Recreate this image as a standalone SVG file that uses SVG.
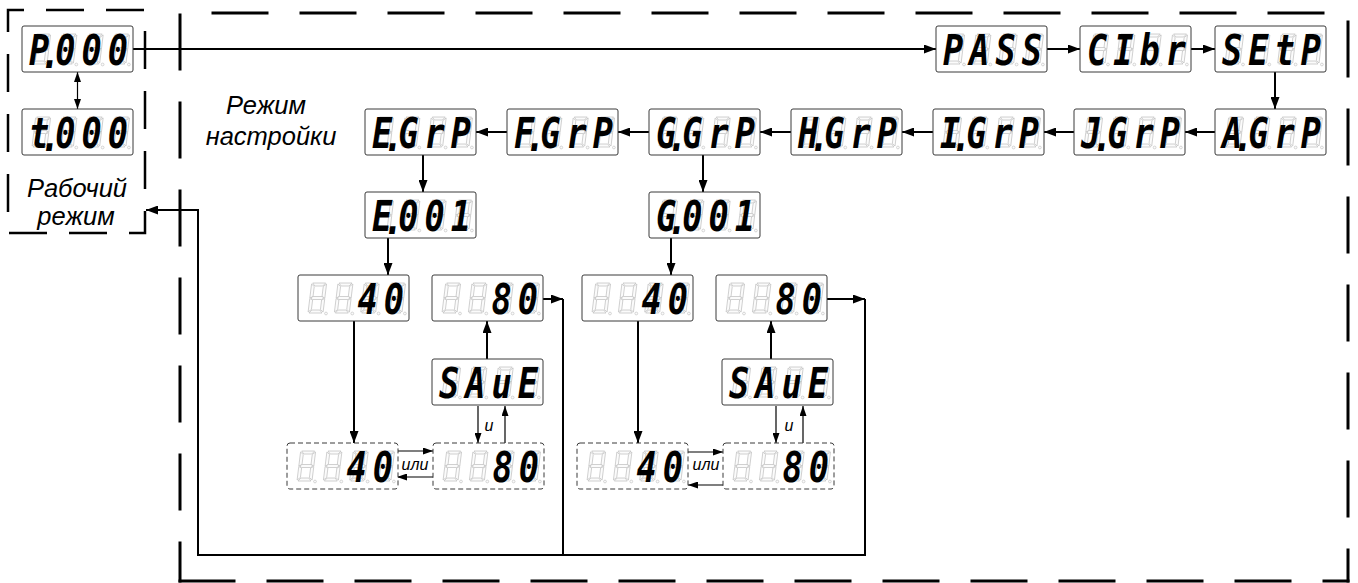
<svg xmlns="http://www.w3.org/2000/svg" xmlns:xlink="http://www.w3.org/1999/xlink" width="1358" height="583" viewBox="0 0 1358 583">
  <style>
    .frame{fill:#fff;stroke:#3a3a3a;stroke-width:1}
    .dframe{fill:#fff;stroke:#3a3a3a;stroke-width:1;stroke-dasharray:5 3}
    .seg polygon{fill:#fbfbfb;stroke:#bdbdbd;stroke-width:0.7}
    .seg circle{fill:#fbfbfb;stroke:#bdbdbd;stroke-width:0.6}
    .lit{font-family:"DejaVu Sans Mono","Liberation Mono",monospace;font-weight:bold;font-style:oblique;font-size:42px;fill:#000;text-anchor:middle}
    .lbl{font-family:"Liberation Sans",Arial,sans-serif;font-style:italic;font-size:25.5px;fill:#000;text-anchor:middle}
    .sm{font-size:16px}
    .wire{fill:none;stroke:#000;stroke-width:2}
    .thin{fill:none;stroke:#000;stroke-width:1.2}
    .bound{fill:none;stroke:#000;stroke-width:3;stroke-linecap:square;stroke-dasharray:54 34}
    .bound2{fill:none;stroke:#000;stroke-width:2.5;stroke-dasharray:38 22}
  </style>
  <defs>
    <marker id="ah" viewBox="0 0 12 9" refX="12" refY="4.5" markerWidth="12" markerHeight="9" markerUnits="userSpaceOnUse" orient="auto">
      <path d="M0,0 L12,4.5 L0,9 Z" fill="#000"/>
    </marker>
    <marker id="ahs" viewBox="0 0 10 7" refX="10" refY="3.5" markerWidth="10" markerHeight="7" markerUnits="userSpaceOnUse" orient="auto-start-reverse">
      <path d="M0,0 L10,3.5 L0,7 Z" fill="#000"/>
    </marker>
    <!-- one unlit seven-segment cell, 15x30, slanted -->
    <g id="cell" class="seg">
      <g transform="translate(0,30) skewX(-7) translate(0,-30)">
        <polygon points="1,0 14,0 11.5,3 3.5,3"/>
        <polygon points="0,1 3,3.5 3,13.5 0,15"/>
        <polygon points="15,1 15,15 12,13.5 12,3.5"/>
        <polygon points="1,15 3,13.5 12,13.5 14,15 12,16.5 3,16.5"/>
        <polygon points="0,15.5 3,17 3,26.5 0,29"/>
        <polygon points="15,15.5 15,29 12,26.5 12,17"/>
        <polygon points="1,30 3.5,27 11.5,27 14,30"/>
      </g>
      <circle cx="18" cy="30.5" r="1.4"/>
    </g>
    <!-- four-digit indicator background -->
    <g id="ghost4">
      <use xlink:href="#cell" href="#cell" x="10" y="8"/>
      <use xlink:href="#cell" href="#cell" x="36.3" y="8"/>
      <use xlink:href="#cell" href="#cell" x="62.6" y="8"/>
      <use xlink:href="#cell" href="#cell" x="88.9" y="8"/>
    </g>
  </defs>

  <rect width="1358" height="583" fill="#fff"/>

  <!-- mode boundaries -->
  <g id="boundaries">
    <path class="bound2" d="M8,10 H145 V233 H8 Z" stroke-dashoffset="22"/>
    <path class="bound" d="M180,13 V581" stroke-dashoffset="86"/>
    <path class="bound" d="M180,581 H1348" stroke-dashoffset="0"/>
    <path class="bound" d="M1348,581 V13" stroke-dashoffset="23"/>
    <path class="bound" d="M1348,13 H180" stroke-dashoffset="63"/>
  </g>

  <!-- connectors -->
  <g id="connectors">
    <path class="wire" d="M133,49 H936" marker-end="url(#ah)"/>
    <path class="wire" d="M1047,49 H1080" marker-end="url(#ah)"/>
    <path class="wire" d="M1191,49 H1215" marker-end="url(#ah)"/>
    <path class="wire" d="M1275,72 V109" marker-end="url(#ah)"/>
    <path class="wire" d="M1215,132 H1185" marker-end="url(#ah)"/>
    <path class="wire" d="M1074,132 H1044" marker-end="url(#ah)"/>
    <path class="wire" d="M933,132 H902" marker-end="url(#ah)"/>
    <path class="wire" d="M791,132 H760" marker-end="url(#ah)"/>
    <path class="wire" d="M649,132 H618" marker-end="url(#ah)"/>
    <path class="wire" d="M507,132 H476" marker-end="url(#ah)"/>
    <path class="wire" d="M423,155 V192" marker-end="url(#ah)"/>
    <path class="wire" d="M703,155 V192" marker-end="url(#ah)"/>
    <path class="wire" d="M388,238 V275" marker-end="url(#ah)"/>
    <path class="wire" d="M671,238 V275" marker-end="url(#ah)"/>
    <path class="wire" d="M354,321 V443" marker-end="url(#ah)"/>
    <path class="wire" d="M638,321 V443" marker-end="url(#ah)"/>
    <path class="wire" d="M487,359 V321" marker-end="url(#ah)"/>
    <path class="wire" d="M771,359 V321" marker-end="url(#ah)"/>
    <path class="wire" d="M543,299 H563" marker-end="url(#ah)"/>
    <path class="wire" d="M827,299 H865" marker-end="url(#ah)"/>
    <path class="wire" d="M563,299 V555"/>
    <path class="wire" d="M865,299 V555 H198 V210 H146" marker-end="url(#ah)"/>
    <path class="thin" d="M77.5,72 V109" marker-start="url(#ahs)" marker-end="url(#ahs)"/>
    <path class="thin" d="M397,451 H433" marker-end="url(#ahs)"/>
    <path class="thin" d="M433,477 H397" marker-end="url(#ahs)"/>
    <path class="thin" d="M478,406 V443" marker-end="url(#ahs)"/>
    <path class="thin" d="M505,443 V406" marker-end="url(#ahs)"/>
    <path class="thin" d="M688,452 H723" marker-end="url(#ahs)"/>
    <path class="thin" d="M723,485 H688" marker-end="url(#ahs)"/>
    <path class="thin" d="M776,406 V443" marker-end="url(#ahs)"/>
    <path class="thin" d="M803,443 V406" marker-end="url(#ahs)"/>
  </g>

  <!-- captions -->
  <g id="captions">
    <text class="lbl" x="77" y="197">Рабочий</text>
    <text class="lbl" x="76" y="225">режим</text>
    <text class="lbl" x="266" y="114">Режим</text>
    <text class="lbl" x="271" y="145">настройки</text>
    <text class="lbl sm" x="415" y="470">или</text>
    <text class="lbl sm" x="706" y="470">или</text>
    <text class="lbl sm" x="489" y="431">и</text>
    <text class="lbl sm" x="789" y="431">и</text>
  </g>

  <!-- operating mode -->
  <g id="n-p000" transform="translate(22,26)">
    <rect class="frame" width="111" height="46" rx="2"/><use xlink:href="#ghost4" href="#ghost4"/>
    <text class="lit" transform="scale(0.8,1)" x="21.3 35.4 54.1 87 119.9" y="38.5 42 38.5 38.5 38.5">P.000</text>
  </g>
  <g id="n-t000" transform="translate(22,109)">
    <rect class="frame" width="111" height="46" rx="2"/><use xlink:href="#ghost4" href="#ghost4"/>
    <text class="lit" transform="scale(0.8,1)" x="21.3 35.4 54.1 87 119.9" y="38.5 42 38.5 38.5 38.5">t.000</text>
  </g>

  <!-- access sequence -->
  <g id="n-pass" transform="translate(936,26)">
    <rect class="frame" width="111" height="46" rx="2"/><use xlink:href="#ghost4" href="#ghost4"/>
    <text class="lit" transform="scale(0.8,1)" x="21.3 54.1 87 119.9" y="38.5">PASS</text>
  </g>
  <g id="n-cibr" transform="translate(1080,26)">
    <rect class="frame" width="111" height="46" rx="2"/><use xlink:href="#ghost4" href="#ghost4"/>
    <text class="lit" transform="scale(0.8,1)" x="21.3 54.1 87 119.9" y="38.5">CIbr</text>
  </g>
  <g id="n-setp" transform="translate(1215,26)">
    <rect class="frame" width="111" height="46" rx="2"/><use xlink:href="#ghost4" href="#ghost4"/>
    <text class="lit" transform="scale(0.8,1)" x="21.3 54.1 87 119.9" y="38.5">SEtP</text>
  </g>

  <!-- parameter groups -->
  <g id="n-agrp" transform="translate(1215,109)">
    <rect class="frame" width="111" height="46" rx="2"/><use xlink:href="#ghost4" href="#ghost4"/>
    <text class="lit" transform="scale(0.8,1)" x="21.3 35.4 54.1 87 119.9" y="38.5 42 38.5 38.5 38.5">A.GrP</text>
  </g>
  <g id="n-jgrp" transform="translate(1074,109)">
    <rect class="frame" width="111" height="46" rx="2"/><use xlink:href="#ghost4" href="#ghost4"/>
    <text class="lit" transform="scale(0.8,1)" x="21.3 35.4 54.1 87 119.9" y="38.5 42 38.5 38.5 38.5">J.GrP</text>
  </g>
  <g id="n-igrp" transform="translate(933,109)">
    <rect class="frame" width="111" height="46" rx="2"/><use xlink:href="#ghost4" href="#ghost4"/>
    <text class="lit" transform="scale(0.8,1)" x="21.3 35.4 54.1 87 119.9" y="38.5 42 38.5 38.5 38.5">I.GrP</text>
  </g>
  <g id="n-hgrp" transform="translate(791,109)">
    <rect class="frame" width="111" height="46" rx="2"/><use xlink:href="#ghost4" href="#ghost4"/>
    <text class="lit" transform="scale(0.8,1)" x="21.3 35.4 54.1 87 119.9" y="38.5 42 38.5 38.5 38.5">H.GrP</text>
  </g>
  <g id="n-ggrp" transform="translate(649,109)">
    <rect class="frame" width="111" height="46" rx="2"/><use xlink:href="#ghost4" href="#ghost4"/>
    <text class="lit" transform="scale(0.8,1)" x="21.3 35.4 54.1 87 119.9" y="38.5 42 38.5 38.5 38.5">G.GrP</text>
  </g>
  <g id="n-fgrp" transform="translate(507,109)">
    <rect class="frame" width="111" height="46" rx="2"/><use xlink:href="#ghost4" href="#ghost4"/>
    <text class="lit" transform="scale(0.8,1)" x="21.3 35.4 54.1 87 119.9" y="38.5 42 38.5 38.5 38.5">F.GrP</text>
  </g>
  <g id="n-egrp" transform="translate(365,109)">
    <rect class="frame" width="111" height="46" rx="2"/><use xlink:href="#ghost4" href="#ghost4"/>
    <text class="lit" transform="scale(0.8,1)" x="21.3 35.4 54.1 87 119.9" y="38.5 42 38.5 38.5 38.5">E.GrP</text>
  </g>

  <!-- parameters -->
  <g id="n-e001" transform="translate(365,192)">
    <rect class="frame" width="111" height="46" rx="2"/><use xlink:href="#ghost4" href="#ghost4"/>
    <text class="lit" transform="scale(0.8,1)" x="21.3 35.4 54.1 87 119.9" y="38.5 42 38.5 38.5 38.5">E.001</text>
  </g>
  <g id="n-g001" transform="translate(649,192)">
    <rect class="frame" width="111" height="46" rx="2"/><use xlink:href="#ghost4" href="#ghost4"/>
    <text class="lit" transform="scale(0.8,1)" x="21.3 35.4 54.1 87 119.9" y="38.5 42 38.5 38.5 38.5">G.001</text>
  </g>

  <!-- value editing, group E -->
  <g id="n-e-val" transform="translate(298,275)">
    <rect class="frame" width="111" height="46" rx="2"/><use xlink:href="#ghost4" href="#ghost4"/>
    <text class="lit" transform="scale(0.8,1)" x="87 119.9" y="38.5">40</text>
  </g>
  <g id="n-e-saved" transform="translate(432,275)">
    <rect class="frame" width="111" height="46" rx="2"/><use xlink:href="#ghost4" href="#ghost4"/>
    <text class="lit" transform="scale(0.8,1)" x="87 119.9" y="38.5">80</text>
  </g>
  <g id="n-e-save" transform="translate(432,359)">
    <rect class="frame" width="111" height="46" rx="2"/><use xlink:href="#ghost4" href="#ghost4"/>
    <text class="lit" transform="scale(0.8,1)" x="21.3 54.1 87 119.9" y="38.5">SAuE</text>
  </g>
  <g id="n-e-old" transform="translate(287,443)">
    <rect class="dframe" width="111" height="46" rx="3"/><use xlink:href="#ghost4" href="#ghost4"/>
    <text class="lit" transform="scale(0.8,1)" x="87 119.9" y="38.5">40</text>
  </g>
  <g id="n-e-new" transform="translate(433,443)">
    <rect class="dframe" width="111" height="46" rx="3"/><use xlink:href="#ghost4" href="#ghost4"/>
    <text class="lit" transform="scale(0.8,1)" x="87 119.9" y="38.5">80</text>
  </g>

  <!-- value editing, group G -->
  <g id="n-g-val" transform="translate(582,275)">
    <rect class="frame" width="111" height="46" rx="2"/><use xlink:href="#ghost4" href="#ghost4"/>
    <text class="lit" transform="scale(0.8,1)" x="87 119.9" y="38.5">40</text>
  </g>
  <g id="n-g-saved" transform="translate(716,275)">
    <rect class="frame" width="111" height="46" rx="2"/><use xlink:href="#ghost4" href="#ghost4"/>
    <text class="lit" transform="scale(0.8,1)" x="87 119.9" y="38.5">80</text>
  </g>
  <g id="n-g-save" transform="translate(722,359)">
    <rect class="frame" width="111" height="46" rx="2"/><use xlink:href="#ghost4" href="#ghost4"/>
    <text class="lit" transform="scale(0.8,1)" x="21.3 54.1 87 119.9" y="38.5">SAuE</text>
  </g>
  <g id="n-g-old" transform="translate(577,443)">
    <rect class="dframe" width="111" height="46" rx="3"/><use xlink:href="#ghost4" href="#ghost4"/>
    <text class="lit" transform="scale(0.8,1)" x="87 119.9" y="38.5">40</text>
  </g>
  <g id="n-g-new" transform="translate(723,443)">
    <rect class="dframe" width="111" height="46" rx="3"/><use xlink:href="#ghost4" href="#ghost4"/>
    <text class="lit" transform="scale(0.8,1)" x="87 119.9" y="38.5">80</text>
  </g>
</svg>
